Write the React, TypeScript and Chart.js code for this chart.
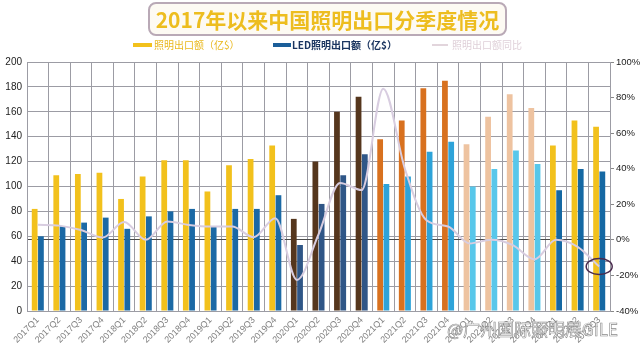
import React, { useEffect, useRef } from "react";
import { Chart, registerables } from "chart.js";
Chart.register(...registerables);

const categories = [
  "2017Q1","2017Q2","2017Q3","2017Q4",
  "2018Q1","2018Q2","2018Q3","2018Q4",
  "2019Q1","2019Q2","2019Q3","2019Q4",
  "2020Q1","2020Q2","2020Q3","2020Q4",
  "2021Q1","2021Q2","2021Q3","2021Q4",
  "2022Q1","2022Q2","2022Q3","2022Q4",
  "2023Q1","2023Q2","2023Q3",
];
const lightingExport = [
  82, 109, 110, 111,
  90, 108, 121, 121,
  96, 117, 122, 133,
  74, 120, 160, 172,
  138, 153, 179, 185,
  134, 156, 174, 163,
  133, 153, 148,
];
const ledExport = [
  60, 68, 71, 75,
  66, 76, 80, 82,
  68, 82, 82, 93,
  53, 86, 109, 126,
  102, 108, 128, 136,
  100, 114, 129, 118,
  97, 114, 112,
];
const growthRate = [
  8.5, 8, 5.5, 1.3,
  10, 0, 10.3, 8.4,
  7.5, 7.5, 1.5, 12.2,
  -22.5, 3, 32, 28,
  85, 40, 11, 7.5,
  -2, 0, -3, -11,
  0, -4, -15,
];
const leftTicks = [0, 20, 40, 60, 80, 100, 120, 140, 160, 180, 200];
const rightTicks = [-40, -20, 0, 20, 40, 60, 80, 100];

const seriesNames = ["照明出口额（亿$）", "LED照明出口额（亿$）", "照明出口额同比"];
const titleText = "2017年以来中国照明出口分季度情况";
const watermark = "@广州国际照明展GILE";

// styles (per year groups)
const lightingColors = [
  ...Array(12).fill("#F2C11C"),
  ...Array(4).fill("#55361D"),
  ...Array(4).fill("#D8711F"),
  ...Array(4).fill("#EEC3A0"),
  ...Array(3).fill("#F2C11C"),
];
const ledColors = [
  ...Array(12).fill("#1B69A5"),
  ...Array(4).fill("#2F5687"),
  ...Array(4).fill("#2EA3D9"),
  ...Array(4).fill("#58C7EA"),
  ...Array(3).fill("#1568A3"),
];

const ellipsePlugin = {
  id: "lastPointEllipse",
  afterDatasetsDraw(chart: any) {
    const meta = chart.getDatasetMeta(2);
    const pt = meta.data[meta.data.length - 1];
    if (!pt) return;
    const ctx = chart.ctx;
    ctx.save();
    ctx.beginPath();
    ctx.ellipse(pt.x, pt.y, 13, 8, 0, 0, Math.PI * 2);
    ctx.strokeStyle = "#4a2b4e";
    ctx.lineWidth = 1.5;
    ctx.stroke();
    ctx.restore();
  },
};

export default function App() {
  const ref = useRef<HTMLCanvasElement>(null);
  useEffect(() => {
    document.body.style.margin = "0";
    const chart = new Chart(ref.current!, {
      type: "bar",
      data: {
        labels: categories,
        datasets: [
          {
            label: seriesNames[0],
            data: lightingExport,
            backgroundColor: lightingColors,
            yAxisID: "y",
            categoryPercentage: 0.58,
            barPercentage: 0.92,
            order: 2,
          },
          {
            label: seriesNames[1],
            data: ledExport,
            backgroundColor: ledColors,
            yAxisID: "y",
            categoryPercentage: 0.58,
            barPercentage: 0.92,
            order: 2,
          },
          {
            type: "line",
            label: seriesNames[2],
            data: growthRate,
            yAxisID: "y1",
            borderColor: "#d8cde0",
            borderWidth: 2,
            pointRadius: 0,
            tension: 0.4,
            cubicInterpolationMode: "monotone",
            order: 1,
          } as any,
        ],
      },
      options: {
        animation: false,
        responsive: true,
        maintainAspectRatio: false,
        layout: { padding: { top: 62, left: 0, right: 0, bottom: 0 } },
        plugins: { legend: { display: false }, tooltip: { enabled: false } },
        scales: {
          x: {
            grid: { color: "#9c9ca4", lineWidth: 1, offset: true, drawTicks: false },
            border: { color: "#9c9ca4" },
            afterFit: (axis: any) => {
              axis.height = 42;
            },
            ticks: {
              color: "#808080",
              font: { size: 9, family: "Liberation Sans" },
              minRotation: 45,
              maxRotation: 45,
              autoSkip: false,
              padding: 4,
            },
          },
          y: {
            position: "left",
            min: 0,
            max: 200,
            afterBuildTicks: (axis: any) => {
              axis.ticks = leftTicks.map((v) => ({ value: v }));
            },
            afterFit: (axis: any) => {
              axis.width = 27;
            },
            grid: { color: "#9c9ca4", drawTicks: false },
            border: { color: "#9c9ca4" },
            ticks: {
              color: "#222",
              font: { size: 10, family: "Liberation Sans" },
              padding: 5,
            },
          },
          y1: {
            position: "right",
            min: -40,
            max: 100,
            afterBuildTicks: (axis: any) => {
              axis.ticks = rightTicks.map((v) => ({ value: v }));
            },
            afterFit: (axis: any) => {
              axis.width = 30;
            },
            grid: {
              color: (c: any) => (c.tick && c.tick.value === 0 ? "#4a4a4a" : "rgba(0,0,0,0)"),
              tickColor: "#888",
              tickLength: 4,
              drawOnChartArea: true,
            },
            border: { color: "#9c9ca4" },
            ticks: {
              color: "#222",
              font: { size: 9.5, family: "Liberation Sans" },
              padding: 2,
              callback: (v: any) => v + "%",
            },
          },
        },
      },
      plugins: [ellipsePlugin],
    });
    return () => chart.destroy();
  }, []);

  const legendText = { fontSize: 10, fontFamily: "'Noto Sans CJK SC', sans-serif", position: "absolute" as const, top: 38, lineHeight: "14px", whiteSpace: "nowrap" as const };

  return (
    <div style={{ position: "relative", width: 640, height: 353, background: "#fff", overflow: "hidden" }}>
      <canvas ref={ref} style={{ position: "absolute", left: 0, top: 0, width: 640, height: 353 }} />
      <div
        style={{
          position: "absolute",
          left: 148,
          top: 2,
          width: 355,
          height: 30,
          border: "2px solid #b9a9b6",
          borderRadius: 8,
          background: "#fdfaf3",
          color: "#EDBD1F",
          fontFamily: "'Noto Sans CJK SC', sans-serif",
          fontWeight: 700,
          fontSize: 21,
          lineHeight: "30px",
          textAlign: "center",
          whiteSpace: "nowrap",
        }}
      >
        {titleText}
      </div>
      <div style={{ position: "absolute", left: 133, top: 43, width: 19, height: 4, background: "#F2C11C" }} />
      <div style={{ ...legendText, left: 154, color: "#E9B81E" }}>{seriesNames[0]}</div>
      <div style={{ position: "absolute", left: 273, top: 43, width: 18, height: 4, background: "#1B5E99" }} />
      <div style={{ ...legendText, left: 292, color: "#1b3560", fontWeight: 700 }}>{seriesNames[1]}</div>
      <div style={{ position: "absolute", left: 432, top: 44, width: 16, height: 2, background: "#e2d5dc" }} />
      <div style={{ ...legendText, left: 452, color: "#e0d1d9" }}>{seriesNames[2]}</div>
      <div
        style={{
          position: "absolute",
          left: 447,
          top: 316,
          fontSize: 17,
          fontFamily: "'Noto Sans CJK SC', sans-serif",
          color: "rgba(255,255,255,0.75)",
          WebkitTextStroke: "0.6px #8a8a8a",
          whiteSpace: "nowrap",
        }}
      >
        {watermark}
      </div>
    </div>
  );
}
